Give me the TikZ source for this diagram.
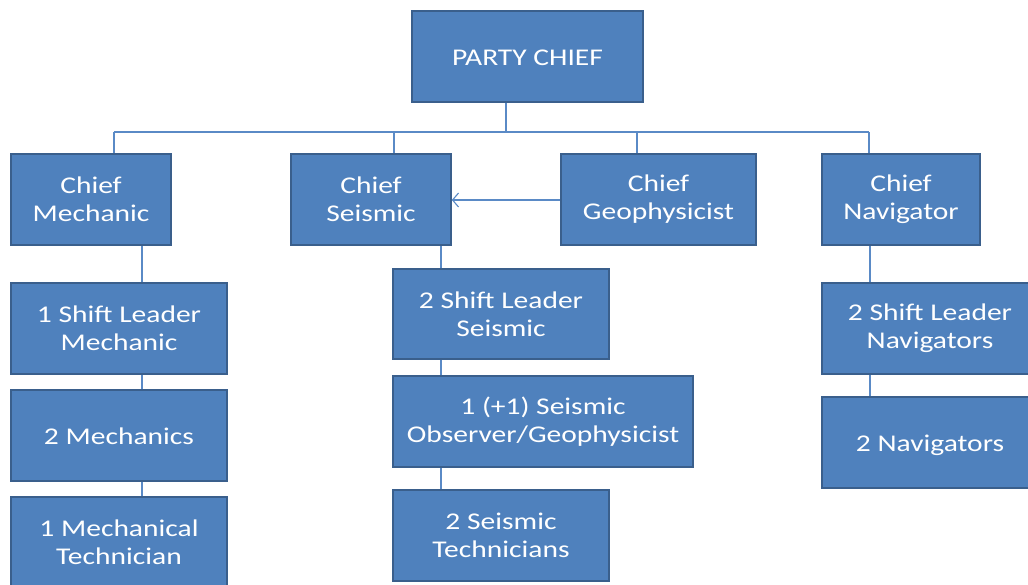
\documentclass[tikz,border=0pt]{standalone}
\usepackage{fontspec}
\setmainfont{Carlito}[FakeStretch=1.23]
\usetikzlibrary{arrows.meta}
\definecolor{boxfill}{HTML}{4F81BD}
\definecolor{boxedge}{HTML}{3A5F8C}
\definecolor{linec}{HTML}{5A8AC6}
\tikzset{
  orgbox/.style={rectangle, fill=boxfill, draw=boxedge, line width=1.6pt,
    text=white, align=center, inner sep=0pt,
    font=\fontsize{24}{28}\selectfont,
    execute at begin node={\rule{0pt}{23pt}}},
  onebox/.style={orgbox,
    execute at begin node={\rule{0pt}{23.5pt}},
    execute at end node={\rule[-6pt]{0pt}{6pt}}},
  conn/.style={draw=linec, line width=1.1pt},
}
\begin{document}
\begin{tikzpicture}[x=1pt,y=-1pt]
\useasboundingbox (0,0) rectangle (1028,584);
\fill[white] (0,0) rectangle (1028,584);
\clip (0,0) rectangle (1028,584);
% boxes
\node[onebox, minimum width=231pt, minimum height=91pt] (pc) at (527.5,56.5) {PARTY CHIEF};
\node[orgbox, minimum width=160pt, minimum height=91pt] (cm) at (91,199.5) {Chief\\Mechanic};
\node[orgbox, minimum width=160pt, minimum height=91pt] (cs) at (371,199.5) {Chief\\Seismic};
\node[orgbox, minimum width=195pt, minimum height=91pt] (cg) at (658.5,199.5) {Chief\\Geophysicist};
\node[orgbox, minimum width=158pt, minimum height=91pt] (cn) at (901,199.5) {Chief\\Navigator};
\node[orgbox, minimum width=216pt, minimum height=91pt] (m1) at (119,328.5) {1 Shift Leader\\Mechanic};
\node[onebox, minimum width=216pt, minimum height=91pt] (m2) at (119,435.5) {2 Mechanics};
\node[orgbox, minimum width=216pt, minimum height=91pt] (m3) at (119,542.5) {1 Mechanical\\Technician};
\node[orgbox, minimum width=216pt, minimum height=90pt] (s1) at (501,314) {2 Shift Leader\\Seismic};
\node[orgbox, minimum width=300pt, minimum height=91pt] (s2) at (543,421.5) {1 (+1) Seismic\\Observer/Geophysicist};
\node[orgbox, minimum width=216pt, minimum height=91pt] (s3) at (501,535.5) {2 Seismic\\Technicians};
\node[orgbox, minimum width=216pt, minimum height=91pt] (n1) at (930,328.5) {2 Shift Leader\\Navigators};
\node[onebox, minimum width=216pt, minimum height=91pt] (n2) at (930,442.5) {2 Navigators};
% bus
\coordinate (busL) at (114,132);
\coordinate (busR) at (869,132);
\coordinate (busP) at (506,132);
\draw[conn] (busL) -- (busR);
\draw[conn] (busP) -- (pc.south -| busP);
\draw[conn] (busL) -- (cm.north -| busL);
\draw[conn] (394,132) -- (cs.north -| 394,0);
\draw[conn] (637,132) -- (cg.north -| 637,0);
\draw[conn] (busR) -- (cn.north -| busR);
% mechanic chain
\draw[conn] (cm.south -| 142,0) -- (m1.north -| 142,0);
\draw[conn] (m1.south -| 142,0) -- (m2.north -| 142,0);
\draw[conn] (m2.south -| 142,0) -- (m3.north -| 142,0);
% seismic chain
\draw[conn] (cs.south -| 441,0) -- (s1.north -| 441,0);
\draw[conn] (s1.south -| 441,0) -- (s2.north -| 441,0);
\draw[conn] (s2.south -| 441,0) -- (s3.north -| 441,0);
% navigator chain
\draw[conn] (cn.south -| 870,0) -- (n1.north -| 870,0);
\draw[conn] (n1.south -| 870,0) -- (n2.north -| 870,0);
% arrow
\draw[conn, -{Straight Barb[length=6pt,width=14pt]}] (cg.west |- 0,200) -- (cs.east |- 0,200);
\end{tikzpicture}
\end{document}
